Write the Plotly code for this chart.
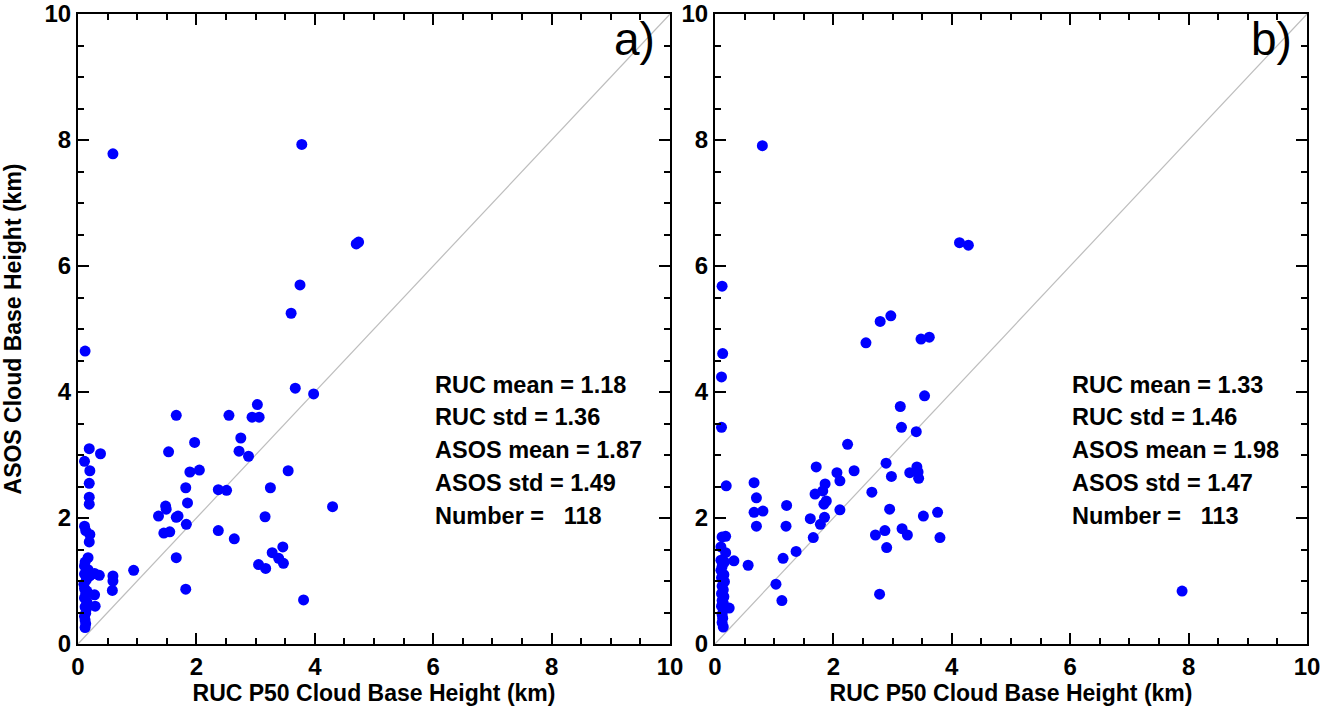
import plotly.graph_objects as go

# ---- data (km) ----
left_x = [0.59, 3.78, 4.70, 4.74, 3.75, 3.60, 0.12, 3.67, 3.98,
          3.03, 2.94, 3.06, 1.66, 2.55, 2.75, 2.72, 2.88, 1.53, 1.97,
          0.19, 0.38, 0.11, 0.20, 0.19, 0.19, 0.19,
          1.89, 2.05, 1.82, 1.85, 2.37, 2.51, 3.55, 3.25, 4.30,
          1.48, 1.49, 1.36, 1.66, 1.69, 1.83, 1.45, 1.55, 2.37, 2.64,
          3.16, 3.46, 3.28, 3.39, 3.47, 3.05, 3.17, 3.81, 1.66, 1.82,
          0.94, 0.59, 0.59, 0.58, 0.28, 0.36, 0.28, 0.29,
          0.11, 0.13, 0.20, 0.19, 0.17, 0.11, 0.17, 0.11, 0.20, 0.11,
          0.13, 0.11, 0.15, 0.12, 0.13, 0.12, 0.12, 0.13, 0.11, 0.14,
          0.10, 0.14, 0.12, 0.15]
left_y = [7.78, 7.93, 6.35, 6.38, 5.70, 5.25, 4.65, 4.06, 3.97,
          3.80, 3.60, 3.60, 3.63, 3.63, 3.27, 3.06, 2.98, 3.05, 3.20,
          3.10, 3.02, 2.90, 2.75, 2.55, 2.33, 2.22,
          2.73, 2.76, 2.48, 2.24, 2.45, 2.44, 2.75, 2.48, 2.18,
          2.19, 2.14, 2.03, 2.01, 2.03, 1.90, 1.76, 1.78, 1.80, 1.67,
          2.02, 1.54, 1.45, 1.36, 1.28, 1.26, 1.20, 0.70, 1.37, 0.87,
          1.17, 1.08, 1.00, 0.85, 1.12, 1.09, 0.78, 0.60,
          1.87, 1.80, 1.74, 1.62, 1.37, 1.24, 1.18, 1.11, 1.08, 0.88,
          0.80, 0.73, 0.67, 0.59, 0.49, 0.38, 0.26, 0.32, 0.44, 0.55,
          0.95, 1.02, 1.30, 0.84]

right_x = [0.80, 4.13, 4.28, 0.12, 2.79, 2.97, 2.55, 3.48, 3.62, 0.13, 0.11, 3.54, 3.13,
           0.11, 0.19, 3.15, 3.40, 2.24, 1.71, 2.89, 2.35, 2.06, 2.11, 2.98, 3.29, 3.41,
           3.43, 3.44, 2.65, 1.86, 1.82, 1.69, 1.88, 1.84, 2.11, 2.95, 3.52, 3.76, 3.80,
           2.71, 2.87, 2.90, 3.16, 3.25, 2.78, 1.61, 1.78, 1.85, 1.66, 1.37, 1.15, 1.21,
           1.20, 0.66, 0.70, 0.66, 0.81, 0.70, 1.03, 1.13, 0.56, 0.32, 0.24, 7.89,
           0.12, 0.18, 0.10,
           0.10, 0.16, 0.12, 0.15, 0.11, 0.16, 0.12, 0.14, 0.11, 0.15, 0.12, 0.14, 0.11,
           0.14, 0.12, 0.13, 0.12, 0.14, 0.10, 0.18]
right_y = [7.91, 6.37, 6.33, 5.68, 5.12, 5.21, 4.78, 4.84, 4.87, 4.61, 4.24, 3.94, 3.77,
           3.44, 2.51, 3.44, 3.37, 3.17, 2.81, 2.87, 2.75, 2.72, 2.59, 2.66, 2.72, 2.81,
           2.73, 2.63, 2.41, 2.54, 2.43, 2.38, 2.27, 2.22, 2.13, 2.14, 2.03, 2.09, 1.69,
           1.73, 1.80, 1.53, 1.83, 1.73, 0.79, 1.99, 1.90, 2.01, 1.69, 1.47, 1.36, 2.20,
           1.87, 2.56, 2.32, 2.09, 2.11, 1.87, 0.95, 0.69, 1.25, 1.32, 0.57, 0.84,
           1.70, 1.71, 1.54,
           1.33, 1.30, 1.23, 1.10, 1.05, 0.99, 0.92, 0.86, 0.80, 0.75, 0.69, 0.65, 0.60,
           0.54, 0.47, 0.41, 0.34, 0.27, 1.17, 1.45]

one_to_one = [0, 10]

panel_labels = ["a)", "b)"]
stats_left = ["RUC mean = 1.18", "RUC std = 1.36", "ASOS mean = 1.87",
              "ASOS std = 1.49", "Number =\u00a0\u00a0\u00a0118"]
stats_right = ["RUC mean = 1.33", "RUC std = 1.46", "ASOS mean = 1.98",
               "ASOS std = 1.47", "Number =\u00a0\u00a0\u00a0113"]
stat_y = [4.11, 3.60, 3.08, 2.55, 2.03]

x_title = "RUC P50 Cloud Base Height (km)"
y_title = "ASOS Cloud Base Height (km)"

FONT = "Liberation Sans, Arial, Helvetica, sans-serif"

fig = go.Figure()
for xa, ya, xs, ys in [("x", "y", left_x, left_y), ("x2", "y2", right_x, right_y)]:
    fig.add_trace(go.Scatter(x=one_to_one, y=one_to_one, mode="lines",
                             line=dict(color="#bdbdbd", width=1.2),
                             xaxis=xa, yaxis=ya, showlegend=False, hoverinfo="skip"))
    fig.add_trace(go.Scatter(x=xs, y=ys, mode="markers",
                             marker=dict(color="#0000ff", size=11, line=dict(width=0)),
                             xaxis=xa, yaxis=ya, showlegend=False))

axis_common = dict(range=[0, 10], dtick=2, tick0=0, ticks="inside", ticklen=11,
                   tickwidth=2, tickcolor="black", showline=True, linewidth=2,
                   linecolor="black", mirror="ticks", showgrid=False, zeroline=False,
                   automargin=False, ticklabeloverflow="allow",
                   minor=dict(dtick=0.5, ticks="inside", ticklen=6, tickwidth=2,
                              tickcolor="black", showgrid=False),
                   tickfont=dict(family=FONT, size=24, color="black", weight="bold"))

title_font = dict(family=FONT, size=23, color="black", weight="bold")

fig.update_layout(
    width=1329, height=711,
    margin=dict(l=78, r=22, t=14, b=67),
    paper_bgcolor="white", plot_bgcolor="white",
    xaxis=dict(domain=[0, 0.4817], anchor="y",
               title=dict(text=x_title, font=title_font, standoff=2), **axis_common),
    yaxis=dict(domain=[0, 1], anchor="x",
               title=dict(text=y_title, font=title_font, standoff=24), **axis_common),
    xaxis2=dict(domain=[0.5183, 1], anchor="y2",
                title=dict(text=x_title, font=title_font, standoff=2), **axis_common),
    yaxis2=dict(domain=[0, 1], anchor="x2", **axis_common),
)

annots = []
for xr, yr, lab, stats in [("x", "y", panel_labels[0], stats_left),
                           ("x2", "y2", panel_labels[1], stats_right)]:
    annots.append(dict(x=9.78, y=9.6, xref=xr, yref=yr, text=lab, showarrow=False,
                       xanchor="right", yanchor="middle",
                       font=dict(family=FONT, size=46, color="black")))
    for s, yy in zip(stats, stat_y):
        annots.append(dict(x=6.0, y=yy, xref=xr, yref=yr, text=s, showarrow=False,
                           xanchor="left", yanchor="middle",
                           font=dict(family=FONT, size=23.5, color="black", weight="bold")))
fig.update_layout(annotations=annots)

fig.write_html("out.html", config={"displayModeBar": False},
               post_script="document.body.style.margin='0';document.body.style.overflow='hidden';")
